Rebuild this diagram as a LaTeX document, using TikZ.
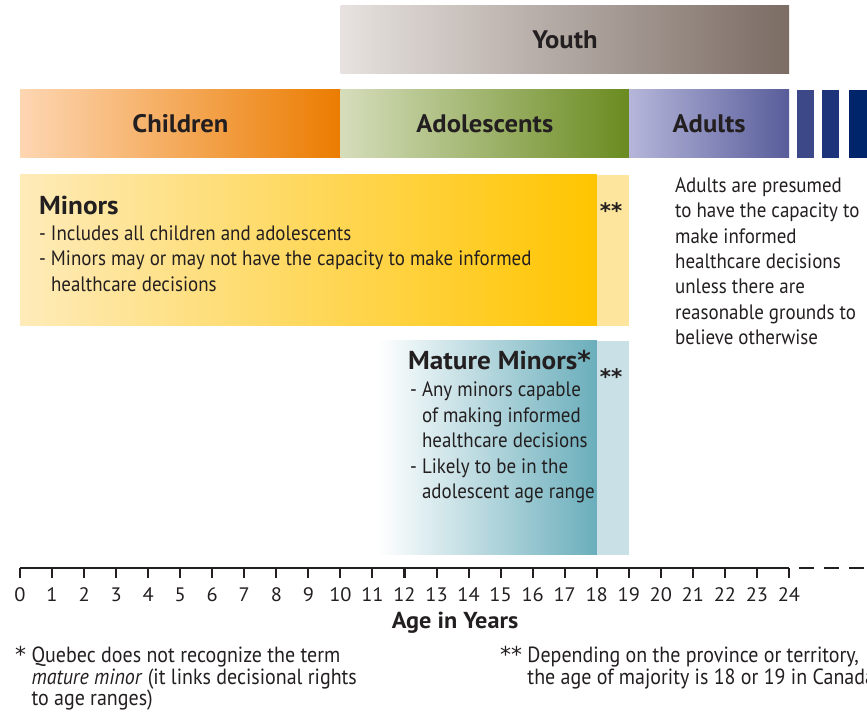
\documentclass[tikz,border=0pt]{standalone}
\usepackage{fontspec}
\setmainfont{PT Sans}[FakeStretch=0.91]
\newfontfamily\headfont{PT Sans}[FakeStretch=1.05]
\newfontfamily\starfont{DejaVu Sans}

\definecolor{ink}{HTML}{231F20}
\definecolor{youthL}{HTML}{E7E2DF}
\definecolor{youthR}{HTML}{7B6C64}
\definecolor{childL}{HTML}{FDD6B2}
\definecolor{childR}{HTML}{EB7C00}
\definecolor{adolL}{HTML}{D5DDBB}
\definecolor{adolR}{HTML}{6A8B20}
\definecolor{adultL}{HTML}{B6B6DA}
\definecolor{adultR}{HTML}{585D9A}
\definecolor{moreA}{HTML}{3C4888}
\definecolor{moreB}{HTML}{1E347A}
\definecolor{moreC}{HTML}{00256B}
\definecolor{minorL}{HTML}{FEEBB9}
\definecolor{minorR}{HTML}{FFC500}
\definecolor{minorS}{HTML}{FDE59D}
\definecolor{matureR}{HTML}{6AAEBB}
\definecolor{matureS}{HTML}{C8E0E6}

\tikzset{
  band/.style={anchor=south west, inner sep=0pt, minimum height=2.12cm, text=ink, font=\headfont\bfseries\fontsize{22.5}{27}\selectfont},
  box/.style={anchor=south west, inner sep=0pt},
  txt/.style={inner sep=0pt, text=ink, align=left, font=\fontsize{18.5}{22.6}\selectfont},
  note/.style={inner sep=0pt, text=ink, align=left, font=\fontsize{19.5}{19.5}\selectfont},
  head/.style={inner sep=0pt, text=ink, font=\headfont\bfseries\fontsize{23}{26}\selectfont},
  stars/.style={anchor=north, inner sep=0pt, text=ink, font=\starfont\bfseries\fontsize{19}{20}\selectfont},
  agetick/.style={ink, line width=1.8pt},
  num/.style={anchor=north, inner sep=0pt, yshift=-0.28cm, text=ink, font=\headfont\fontsize{17.3}{18}\selectfont}
}

\begin{document}
\begin{tikzpicture}
\useasboundingbox (-0.624, -4.494) rectangle (26.435, 17.728);
\clip (-0.624, -4.494) rectangle (26.435, 17.728);

% Age bands along the top
\node[band, left color=youthL, right color=youthR, minimum width=14cm] (youth) at (10.0, 15.42) {Youth};
\node[band, left color=childL, right color=childR, minimum width=10cm] (children) at (0.0, 12.80) {Children};
\node[band, left color=adolL, right color=adolR, minimum width=9cm] (adolescents) at (10.0, 12.80) {Adolescents};
\node[band, left color=adultL, right color=adultR, minimum width=5cm] (adults) at (19.0, 12.80) {Adults};
\node[band, fill=moreA, minimum width=0.53cm] (moreA) at (24.25, 12.80) {};
\node[band, fill=moreB, minimum width=0.53cm] (moreB) at (25.03, 12.80) {};
\node[band, fill=moreC, minimum width=0.80cm] (moreC) at (25.87, 12.80) {};

% Minors
\node[box, left color=minorL, right color=minorR, minimum width=18cm, minimum height=4.72cm] (minors) at (0.0, 7.55) {};
\node[box, fill=minorS, minimum width=1cm, minimum height=4.72cm] (minorsend) at (18.0, 7.55) {};
\node[head, anchor=base west] (minorstitle) at (0.59, 11.02) {Minors};
\node[txt, anchor=north west] (minorstext) at (0.59, 10.70) {- Includes all children and adolescents\\- Minors may or may not have the capacity to make informed\\\phantom{- }healthcare decisions};
\node[stars] (minorsstars) at (18.45, 11.42) {**};

% Mature minors
\node[box, left color=white, right color=matureR, minimum width=6.83cm, minimum height=6.67cm] (mature) at (11.17, 0.41) {};
\node[box, fill=matureS, minimum width=1cm, minimum height=6.67cm] (matureend) at (18.0, 0.41) {};
\node[head, anchor=base west] (maturetitle) at (12.11, 6.21) {Mature Minors{\starfont*}};
\node[txt, anchor=north west] (maturetext) at (12.17, 5.81) {- Any minors capable\\\phantom{- }of making informed\\\phantom{- }healthcare decisions\\- Likely to be in the\\\phantom{- }adolescent age range};
\node[stars] (maturestars) at (18.45, 6.24) {**};

% Adults
\node[txt, anchor=north west] (adultstext) at (20.44, 12.20) {Adults are presumed\\to have the capacity to\\make informed\\healthcare decisions\\unless there are\\reasonable grounds to\\believe otherwise};

% Age axis
\draw[agetick] (0, 0) -- (24, 0);
\draw[agetick, dash pattern=on 0.47cm off 0.31cm, dash phase=0.47cm] (24, 0) -- (27, 0);
\draw[agetick] (0, 0) -- (0, -0.31) node[num] (n0) {0};
\draw[agetick] (1, 0) -- (1, -0.31) node[num] (n1) {1};
\draw[agetick] (2, 0) -- (2, -0.31) node[num] (n2) {2};
\draw[agetick] (3, 0) -- (3, -0.31) node[num] (n3) {3};
\draw[agetick] (4, 0) -- (4, -0.31) node[num] (n4) {4};
\draw[agetick] (5, 0) -- (5, -0.31) node[num] (n5) {5};
\draw[agetick] (6, 0) -- (6, -0.31) node[num] (n6) {6};
\draw[agetick] (7, 0) -- (7, -0.31) node[num] (n7) {7};
\draw[agetick] (8, 0) -- (8, -0.31) node[num] (n8) {8};
\draw[agetick] (9, 0) -- (9, -0.31) node[num] (n9) {9};
\draw[agetick] (10, 0) -- (10, -0.31) node[num] (n10) {10};
\draw[agetick] (11, 0) -- (11, -0.31) node[num] (n11) {11};
\draw[agetick] (12, 0) -- (12, -0.31) node[num] (n12) {12};
\draw[agetick] (13, 0) -- (13, -0.31) node[num] (n13) {13};
\draw[agetick] (14, 0) -- (14, -0.31) node[num] (n14) {14};
\draw[agetick] (15, 0) -- (15, -0.31) node[num] (n15) {15};
\draw[agetick] (16, 0) -- (16, -0.31) node[num] (n16) {16};
\draw[agetick] (17, 0) -- (17, -0.31) node[num] (n17) {17};
\draw[agetick] (18, 0) -- (18, -0.31) node[num] (n18) {18};
\draw[agetick] (19, 0) -- (19, -0.31) node[num] (n19) {19};
\draw[agetick] (20, 0) -- (20, -0.31) node[num] (n20) {20};
\draw[agetick] (21, 0) -- (21, -0.31) node[num] (n21) {21};
\draw[agetick] (22, 0) -- (22, -0.31) node[num] (n22) {22};
\draw[agetick] (23, 0) -- (23, -0.31) node[num] (n23) {23};
\draw[agetick] (24, 0) -- (24, -0.31) node[num] (n24) {24};
\node[head, anchor=base, font=\headfont\bfseries\fontsize{20.5}{22}\selectfont] (agelabel) at (13.58, -1.90) {Age in Years};

% Footnotes
\node[note, anchor=north west] (quebec) at (-0.156, -2.42) {{\starfont*} Quebec does not recognize the term\\\phantom{{\starfont*} }\textit{mature minor} (it links decisional rights\\\phantom{{\starfont*} }to age ranges)};
\node[note, anchor=north west] (majority) at (14.98, -2.42) {{\starfont**} Depending on the province or territory,\\\phantom{{\starfont**} }the age of majority is 18 or 19 in Canada};
\end{tikzpicture}
\end{document}
